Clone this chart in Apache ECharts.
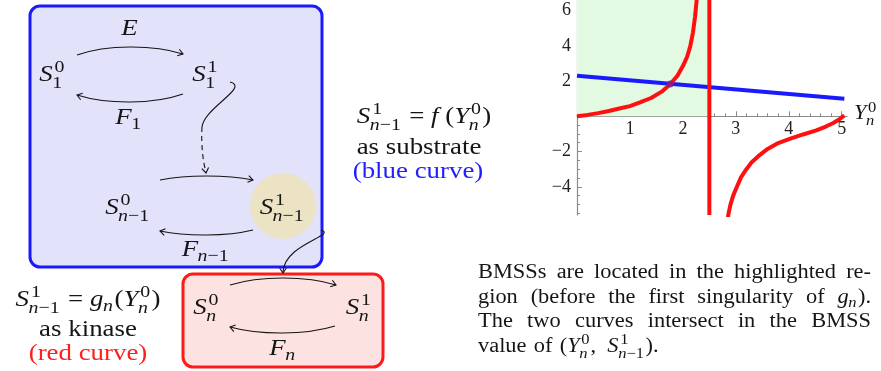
<!DOCTYPE html>
<html><head><meta charset="utf-8">
<script src="https://cdn.jsdelivr.net/npm/echarts@6/dist/echarts.min.js"></script>
<style>html,body{margin:0;padding:0;background:#fff}#c{width:881px;height:371px}</style>
</head><body><div id="c"></div>
<script>
// ---------------- chart data ----------------
const xRange = [0, 5.1];
const yRange = [-5.6, 6.6];
const xLabelValues = [1, 2, 3, 4, 5];
const yLabelValues = [-4, -2, 2, 4, 6];
const xMinorTicks = [0.2,0.4,0.6,0.8,1.2,1.4,1.6,1.8,2.2,2.4,2.6,2.8,3.2,3.4,3.6,3.8,4.2,4.4,4.6,4.8,5.0];
const yMinorTicks = [-5.5,-5,-4.5,-3.5,-3,-2.5,-1.5,-1,-0.5,0.5,1,1.5,2.5,3,3.5,4.5,5,5.5,6.5];
// red curve g_n (kinase), left branch before the singularity
const gLeftX = [0, 0.2, 0.4, 0.6, 0.8, 1.0, 1.2, 1.4, 1.6, 1.76, 1.9, 2.0, 2.08, 2.14, 2.19, 2.23, 2.26, 2.3];
const gLeftY = [0, 0.08, 0.18, 0.3, 0.44, 0.58, 0.8, 1.04, 1.4, 1.82, 2.32, 2.85, 3.38, 3.98, 4.75, 5.65, 6.6, 8.0];
// vertical red segment at the singularity
const gPoleX = [2.5, 2.5];
const gPoleY = [6.6, -5.6];
// red curve right branch
const gRightX = [2.84, 2.86, 2.9, 2.95, 3.02, 3.1, 3.2, 3.3, 3.45, 3.6, 3.8, 4.03, 4.27, 4.52, 4.7, 4.84, 4.95, 5.05];
const gRightY = [-6.0, -5.55, -5.0, -4.5, -4.0, -3.45, -3.0, -2.6, -2.2, -1.85, -1.52, -1.27, -1.03, -0.8, -0.58, -0.38, -0.18, 0.05];
// blue curve f (substrate)
const fX = [0, 5.05];
const fY = [2.3, 1.0];
// highlighted region and the BMSS intersection
const regionX = [0, 2.5];
const regionTop = 6.6;
const bmssPoint = [1.76, 1.83];

// ---------------- text typesetting helpers ----------------
const FONT = '"Liberation Serif", "Times New Roman", serif';
const KX = 1.12; // horizontal stretch to mimic Computer Modern proportions
const SCR = 0.74; // script size ratio
const cv = document.createElement('canvas').getContext('2d');
function fstr(size, it) { return (it ? 'italic ' : '') + size + 'px ' + FONT; }
function mw(s, size, it) { cv.font = fstr(size, it); return cv.measureText(s).width * KX; }
const R = s => ({ t: s });
const I = s => ({ t: s, i: true });
const SC = (sup, sub) => ({ sup: sup, sub: sub });
const BASE_K = 0.34;
function txt(s, x, base, size, it, color) {
  return { type: 'text', silent: true, z: 10, x: x, y: base - size * BASE_K, scaleX: KX,
    style: { text: s, x: 0, y: 0, font: fstr(size, it), fill: color,
      textAlign: 'left', textVerticalAlign: 'middle', align: 'left', verticalAlign: 'middle' } };
}
function tw(toks, size) {
  let w = 0;
  toks.forEach((k, j) => {
    if (k.t !== undefined) w += mw(k.t, size, k.i);
    else {
      const ss = size * SCR, prevIt = j > 0 && toks[j - 1].i;
      const a = k.sup ? tw(k.sup, ss) + (prevIt ? size * 0.08 : 0) : 0;
      const b = k.sub ? tw(k.sub, ss) : 0;
      w += Math.max(a, b) + size * 0.05;
    }
  });
  return w;
}
function put(toks, x, base, size, color, out) {
  let cx = x;
  toks.forEach((k, j) => {
    if (k.t !== undefined) { out.push(txt(k.t, cx, base, size, k.i, color)); cx += mw(k.t, size, k.i); }
    else {
      const ss = size * SCR, prevIt = j > 0 && toks[j - 1].i, both = k.sup && k.sub;
      let w = 0;
      if (k.sup) { const off = prevIt ? size * 0.08 : 0; put(k.sup, cx + off, base - size * 0.4, ss, color, out); w = Math.max(w, tw(k.sup, ss) + off); }
      if (k.sub) { put(k.sub, cx - (prevIt ? size * 0.02 : 0), base + size * (both ? 0.27 : 0.17), ss, color, out); w = Math.max(w, tw(k.sub, ss)); }
      cx += w + size * 0.05;
    }
  });
  return cx;
}
function putC(toks, cx, base, size, color, out) { put(toks, cx - tw(toks, size) / 2, base, size, color, out); }

const G = [];
const INK = '#151515';
// boxes
G.push({ type: 'rect', silent: true, z: 1, shape: { x: 30, y: 6, width: 292, height: 261, r: 10 }, style: { fill: '#e2e2fb', stroke: '#1a1aff', lineWidth: 3 } });
G.push({ type: 'rect', silent: true, z: 1, shape: { x: 183, y: 274, width: 200, height: 93, r: 10 }, style: { fill: '#fde2e2', stroke: '#ff1a1a', lineWidth: 3 } });
G.push({ type: 'circle', silent: true, z: 2, shape: { cx: 283, cy: 206, r: 33 }, style: { fill: '#ebe3c3' } });

// arrows
function cubic(p0, p1, p2, p3, dash) {
  G.push({ type: 'bezierCurve', silent: true, z: 3,
    shape: { x1: p0[0], y1: p0[1], cpx1: p1[0], cpy1: p1[1], cpx2: p2[0], cpy2: p2[1], x2: p3[0], y2: p3[1] },
    style: { stroke: INK, lineWidth: 1.1, fill: 'none', lineDash: dash || null } });
}
function head(tip, from) {
  const dx = tip[0] - from[0], dy = tip[1] - from[1], L = Math.hypot(dx, dy);
  const ux = dx / L, uy = dy / L, len = 6, a = 0.6, c = Math.cos(a), s = Math.sin(a);
  const w1 = [tip[0] - len * (ux * c - uy * s), tip[1] - len * (uy * c + ux * s)];
  const w2 = [tip[0] - len * (ux * c + uy * s), tip[1] - len * (uy * c - ux * s)];
  G.push({ type: 'polyline', silent: true, z: 3, shape: { points: [w1, tip, w2] }, style: { stroke: INK, lineWidth: 1.1, fill: 'none' } });
}
function arc(a, b, peak) {
  const c = (peak - 0.25 * (a[1] + b[1]) / 2) / 0.75;
  const p1 = [a[0] + (b[0] - a[0]) * 0.28, c], p2 = [a[0] + (b[0] - a[0]) * 0.72, c];
  cubic(a, p1, p2, b); head(b, p2);
}
arc([77, 55], [183, 54], 47);
arc([183, 94], [77, 95], 102);
arc([160, 180], [253, 180], 176);
arc([253, 230], [160, 231], 235);
arc([230, 285], [336, 285], 278);
arc([335, 326], [230, 327], 333);
cubic([230, 82], [250, 87], [204, 108], [202, 127]);
cubic([202, 127], [201, 145], [203, 162], [206, 172], [5, 4]);
head([206, 173], [204, 160]);
cubic([321, 230], [338, 235], [284, 244], [283, 272]);
head([283, 273], [283, 262]);

// diagram labels
const DS = 24;
const S10 = [I('S'), SC([R('0')], [R('1')])];
const S11 = [I('S'), SC([R('1')], [R('1')])];
const Sn10 = [I('S'), SC([R('0')], [I('n'), R('−1')])];
const Sn11 = [I('S'), SC([R('1')], [I('n'), R('−1')])];
const Sn0 = [I('S'), SC([R('0')], [I('n')])];
const Sn1 = [I('S'), SC([R('1')], [I('n')])];
putC(S10, 52.5, 83, DS, INK, G);
putC(S11, 205.5, 83, DS, INK, G);
putC([I('E')], 129.5, 37, DS, INK, G);
putC([I('F'), SC(null, [R('1')])], 129, 126, DS, INK, G);
putC(Sn10, 128, 216, DS, INK, G);
putC(Sn11, 282.5, 216, DS, INK, G);
putC([I('F'), SC(null, [I('n'), R('−1')])], 206, 258, DS, INK, G);
putC(Sn0, 206.5, 316, DS, INK, G);
putC(Sn1, 359, 316, DS, INK, G);
putC([I('F'), SC(null, [I('n')])], 283, 357, DS, INK, G);

// side captions
const TS = 24;
const Yn0 = [I('Y'), SC([R('0')], [I('n')])];
putC([].concat(Sn11, [R(' = '), I('f'), R(' (')], Yn0, [R(')')]), 424, 125, TS, INK, G);
putC([R('as substrate')], 419, 156, TS, INK, G);
putC([R('(blue curve)')], 418, 180, TS, '#1f1fff', G);
putC([].concat(Sn11, [R(' = '), I('g'), SC(null, [I('n')]), R('(')], Yn0, [R(')')]), 88, 308, TS, INK, G);
putC([R('as kinase')], 88, 338, TS, INK, G);
putC([R('(red curve)')], 88, 362, TS, '#ff1f1f', G);

// paragraph (justified)
const PS = 20, PL = 478, PR = 871, PB = 280, PLH = 24.5;
const para = [
  { just: true, words: [[R('BMSSs')], [R('are')], [R('located')], [R('in')], [R('the')], [R('highlighted')], [R('re-')]] },
  { just: true, words: [[R('gion')], [R('(before')], [R('the')], [R('first')], [R('singularity')], [R('of')], [I('g'), SC(null, [I('n')]), R(').')]] },
  { just: true, words: [[R('The')], [R('two')], [R('curves')], [R('intersect')], [R('in')], [R('the')], [R('BMSS')]] },
  { just: false, words: [[R('value')], [R('of')], [].concat([R('(')], Yn0, [R(',  ')], Sn11, [R(').')])] }
];
para.forEach((ln, li) => {
  const base = PB + li * PLH;
  const ws = ln.words.map(w => tw(w, PS));
  const sum = ws.reduce((a, b) => a + b, 0);
  const gap = ln.just ? (PR - PL - sum) / (ln.words.length - 1) : mw(' ', PS, false) * 1.3;
  let x = PL;
  ln.words.forEach((w, k) => { put(w, x, base, PS, INK, G); x += ws[k] + gap; });
});

// axis name
put(Yn0, 854, 121, 20, INK, G);

// ---------------- chart ----------------
const zip = (a, b) => a.map((v, i) => [v, b[i]]);
const GRID = { left: 577, top: 0, width: 270, height: 215 };
const zeroOffset = -GRID.height * (0 - yRange[0]) / (yRange[1] - yRange[0]);
const labelFont = { fontFamily: FONT, fontSize: 18, color: '#222' };
const axisCol = '#8a8a8a';
const chart = echarts.init(document.getElementById('c'), null, { renderer: 'canvas' });
chart.setOption({
  animation: false,
  grid: Object.assign({ outerBoundsMode: 'none', containLabel: false }, GRID),
  xAxis: [
    { type: 'value', min: xRange[0], max: xRange[1], position: 'bottom', offset: zeroOffset, splitLine: { show: false },
      axisLine: { onZero: false, lineStyle: { color: axisCol, width: 1.2 } },
      axisTick: { inside: true, length: 5, customValues: xLabelValues, lineStyle: { color: axisCol } },
      axisLabel: Object.assign({ customValues: xLabelValues, margin: 4 }, labelFont) },
    { type: 'value', min: xRange[0], max: xRange[1], position: 'bottom', offset: zeroOffset, splitLine: { show: false },
      axisLine: { show: false, onZero: false },
      axisTick: { inside: true, length: 3, customValues: xMinorTicks, lineStyle: { color: axisCol } },
      axisLabel: { show: false } }
  ],
  yAxis: [
    { type: 'value', min: yRange[0], max: yRange[1], position: 'left', splitLine: { show: false },
      axisLine: { onZero: false, lineStyle: { color: axisCol, width: 1.2 } },
      axisTick: { inside: true, length: 5, customValues: yLabelValues, lineStyle: { color: axisCol } },
      axisLabel: Object.assign({ customValues: yLabelValues, margin: 6, formatter: v => String(v).replace('-', '−') }, labelFont) },
    { type: 'value', min: yRange[0], max: yRange[1], position: 'left', splitLine: { show: false },
      axisLine: { show: false, onZero: false },
      axisTick: { inside: true, length: 3, customValues: yMinorTicks, lineStyle: { color: axisCol } },
      axisLabel: { show: false } }
  ],
  series: [
    { type: 'line', name: 'region', z: 1, data: [[regionX[0], regionTop], [regionX[1], regionTop]], showSymbol: false,
      lineStyle: { width: 0 }, areaStyle: { color: '#e2f9e2', opacity: 1 }, silent: true },
    { type: 'line', name: 'f', z: 3, data: zip(fX, fY), showSymbol: false, lineStyle: { color: '#1a1aff', width: 4 } },
    { type: 'line', name: 'g left', z: 4, data: zip(gLeftX, gLeftY), showSymbol: false,
      lineStyle: { color: '#ff1010', width: 4, join: 'round' } },
    { type: 'line', name: 'g pole', z: 4, data: zip(gPoleX, gPoleY), showSymbol: false, lineStyle: { color: '#ff1010', width: 4 } },
    { type: 'line', name: 'g right', z: 4, data: zip(gRightX, gRightY), showSymbol: false,
      lineStyle: { color: '#ff1010', width: 4, join: 'round' } },
    { type: 'scatter', name: 'BMSS', z: 5, data: [bmssPoint], symbolSize: 7, itemStyle: { color: '#7a1a8a' } }
  ],
  graphic: { elements: G }
});
</script>
</body></html>
